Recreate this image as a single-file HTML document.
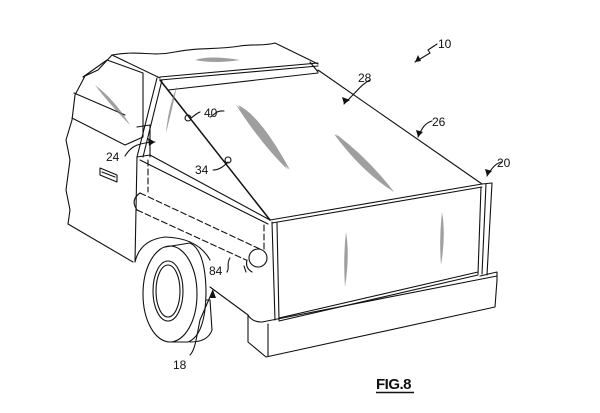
<!DOCTYPE html>
<html><head><style>
html,body{margin:0;padding:0;background:#fff;width:600px;height:413px;overflow:hidden}
svg{display:block}
text{font-family:"Liberation Sans",sans-serif;font-size:12px;fill:#111}
</style></head><body>
<svg width="600" height="413" viewBox="0 0 600 413" xmlns="http://www.w3.org/2000/svg">
<g fill="none" stroke="#111" stroke-width="1.1" stroke-linejoin="round" stroke-linecap="round">
<path d="M112,55 C140,50 150,57 175,52 C200,47 215,50 240,46 C255,44 265,46 275,43 L318,64"/>
<path d="M112,55 L98,70 L85,76 L75,95 L72,120 L66,140 L70,160 L66,190 L70,210 L68,224"/>
<path d="M112,55 L160,78"/>
<path d="M160,77 L318,63"/>
<path d="M160,80 L318,66"/>
<path d="M168,90 L318,73"/>
<path d="M310,62 L318,72"/>
<path d="M318,70 L482,184"/>
<path d="M160,80 L270,220" stroke-width="1.5"/>
<path d="M270,220 L482,184 L492,183"/>
<path d="M272,223 L482,187"/>
<path d="M272,222 L275,320"/>
<path d="M277,223 L279,320"/>
<path d="M481,187 L478,274"/>
<path d="M492,183 L487,275"/>
<path d="M486,184 L482,274"/>
<path d="M279,318 L478,272"/>
<path d="M279,321 L478,275"/>
<path d="M248,315 L248,342 L266,357 L495,307 L497,280 L497,272 L480,276"/>
<path d="M248,315 Q252,322 262,322 L497,276"/>
<path d="M268,324 L268,356"/>
<path d="M68,224 L133,262"/>
<path d="M83,77 L107,60 L143,73 L143,137 L125,145 L72,118"/>
<path d="M74,93 L125,115"/>
<path d="M157,78 L137,157 L135,262"/>
<path d="M162,80 L143,157"/>
<path d="M100,168 L117,175 L117,182 L100,175 Z"/>
<path d="M102,172 L115,177"/>
<path d="M137,127 L150,125 L150,157"/>
<path d="M137,157 L150,155 L270,220"/>
<path d="M140,160 L268,224"/>
<path d="M135,262 Q140,240 165,237 Q198,238 210,260"/>
<path d="M210,287 L248,315"/>
<ellipse cx="170" cy="294" rx="27" ry="48"/>
<ellipse cx="168" cy="291" rx="15" ry="30"/>
<ellipse cx="168" cy="291" rx="12" ry="26"/>
<path d="M165,247 L190,243 Q205,250 206,290 Q206,335 188,342 L172,342"/>
<path d="M206,300 L210,300 L212,330 Q208,342 190,342"/>
<g stroke-dasharray="6,3">
<path d="M148,160 L148,192"/>
<path d="M264,225 L264,252"/>
<path d="M140,193 L262,250"/>
<path d="M137,210 L246,260"/>
</g>
<path d="M140,193 Q130,200 137,210"/>
<circle cx="258" cy="258" r="9"/>
<path d="M247,260 Q245,268 252,272"/>
<path d="M125,156 C130,148 135,143 155,142"/>
<path d="M224,111 C215,110 214,116 210,117"/>
<circle cx="188" cy="118" r="3"/>
<path d="M200,112 C195,114 193,117 191,118"/>
<path d="M213,170 C220,170 225,165 228,162"/>
<circle cx="228" cy="160" r="3"/>
<path d="M227,272 C230,268 226,264 230,258"/>
<path d="M190,355 C195,350 196,340 200,320 L213,290"/>
<path d="M370,80 C362,84 360,88 344,104"/>
<path d="M432,121 C425,123 422,128 418,137"/>
<path d="M501,162 C495,164 492,168 487,176"/>
<path d="M437,44 L428,50 L430,53 L415,62"/>
<path d="M244,266 L246,272"/>
</g>
<g fill="#111">
<path d="M155,142 L148,138 L149,146 Z"/>
<path d="M344,104 L342,97 L350,100 Z"/>
<path d="M418,137 L416,130 L423,132 Z"/>
<path d="M487,176 L485,169 L492,171 Z"/>
<path d="M415,62 L418,55 L421,61 Z"/>
<path d="M213,290 L210,298 L216,298 Z"/>
</g>
<g fill="#777" opacity="0.7">
<path d="M195,60 Q210,55 240,60 Q215,64 195,60 Z"/>
<path d="M95,85 Q115,100 130,125 Q110,105 95,85 Z"/>
<path d="M177,86 Q172,110 166,133 Q168,108 177,86 Z"/>
<path d="M236,105 Q265,130 288,170 Q262,145 236,105 Z"/>
<path d="M238,105 Q260,115 290,170 Q258,140 238,105 Z"/>
<path d="M334,134 Q360,150 394,192 Q362,172 334,134 Z"/>
<path d="M336,134 Q370,160 394,192 Q352,162 336,134 Z"/>
<path d="M346,232 Q350,255 345,287 Q343,258 346,232 Z"/>
<path d="M442,212 Q446,235 441,265 Q439,238 442,212 Z"/>
</g>
<text x="438" y="48">10</text>
<text x="358" y="82">28</text>
<text x="432" y="126">26</text>
<text x="497" y="167">20</text>
<text x="204" y="117">40</text>
<text x="106" y="161">24</text>
<text x="195" y="174">34</text>
<text x="209" y="275">84</text>
<text x="173" y="369">18</text>
<text x="376" y="389" style="font-size:15px;font-weight:bold;letter-spacing:-0.5px">FIG.8</text>
<line x1="376" y1="392.5" x2="414" y2="392.5" stroke="#111" stroke-width="1.5"/>
</svg>
</body></html>
